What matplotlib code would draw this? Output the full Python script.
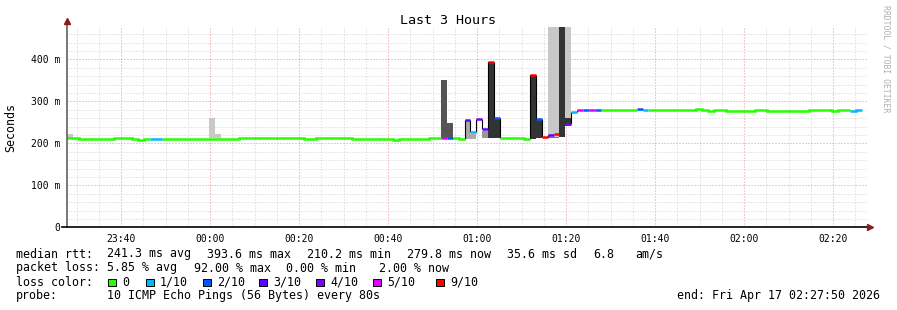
import matplotlib
matplotlib.use("Agg")
import matplotlib.pyplot as plt
from matplotlib.patches import Rectangle
import numpy as np

plt.rcParams['font.family'] = 'DejaVu Sans Mono'

W, H = 897, 310
STEP = 80 / 60.0   # one sample = 80 s, in minutes
SPAN = 180.0       # 3 hours shown, start 23:27:50

# x ticks: minutes from 23:27:50
tick_pos = [12.1667, 32.1667, 52.1667, 72.1667, 92.1667, 112.1667, 132.1667, 152.1667, 172.1667]
tick_labels = ["23:40", "00:00", "00:20", "00:40", "01:00", "01:20", "01:40", "02:00", "02:20"]
minor_pos = [2.1667 + 5 * i for i in range(36)]
ytick_pos = [0, 100, 200, 300, 400]
ytick_labels = ["0", "100 m", "200 m", "300 m", "400 m"]

# median rtt (ms) per 80 s sample
median_ms = [
    213.5, 212, 210.5, 210.5, 210.5, 210.5, 210.5, 210.5,          # 0-7
    213, 213, 213, 210.5, 208.5, 210.5, 210.5, 210.5,              # 8-15
    210.5, 210.5, 210.5, 210.5, 210.5, 210.5, 210.5, 210.5,        # 16-23
    210.5, 210.5, 210.5, 210.5, 210.5,                             # 24-28
    212.5, 212.5, 212.5, 212.5, 212.5, 212.5, 212.5, 212.5, 212.5, 212.5, 212.5,  # 29-39
    210.5, 210.5,                                                  # 40-41
    212, 212, 212, 212, 212, 212,                                  # 42-47
    211, 211, 211, 211, 211, 211, 211,                             # 48-54
    208.5, 211, 211, 211, 211, 211, 213, 213,                      # 55-62
    213.5, 212.5, 213, 210.5, 255.5, 226, 258, 234, 393.6, 260,    # 63-72
    212.5, 212.5, 212.5, 212.5, 211,                               # 73-77
    362.6, 258, 214, 220.5, 221, np.nan, 245, 274.5,               # 78-85
    278.6, 278.6, 278.6, 278.6,                                    # 86-89
    279.5, 279.5, 279.5, 279.5, 279.5, 279.5, 281.7, 279,          # 90-97
    278.6, 278.6, 278.6, 278.6, 278.6, 278.6, 278.6, 278.6,        # 98-105
    281.7, 280, 277.6, 280, 280,                                   # 106-110
    277.6, 277.6, 277.6, 277.6, 277.6, 280.5, 280.5,               # 111-117
    277.6, 277.6, 277.6, 277.6, 277.6, 277.6, 277.6,               # 118-124
    280, 280, 280, 280, 277.6, 280.5, 280.5, 277.6, 279.8,         # 125-133
]

# lost pings out of 10, per sample
loss_n = [
    0, 0, 0, 0, 0, 0, 0, 0,
    0, 0, 0, 0, 0, 0, 1, 1,
    0, 0, 0, 0, 0, 0, 0, 0,
    0, 0, 0, 0, 0,
    0, 0, 0, 0, 0, 0, 0, 0, 0, 0, 0,
    0, 0,
    0, 0, 0, 0, 0, 0,
    0, 0, 0, 0, 0, 0, 0,
    0, 0, 0, 0, 0, 0, 0, 0,
    5, 2, 0, 0, 3, 1, 4, 3, 9, 2,
    0, 0, 0, 0, 0,
    9, 2, 9, 3, 9, 9, 4, 1,
    5, 2, 5, 2,
    0, 0, 0, 0, 0, 0, 2, 1,
    0, 0, 0, 0, 0, 0, 0, 0,
    0, 0, 0, 0, 0,
    0, 0, 0, 0, 0, 0, 0,
    0, 0, 0, 0, 0, 0, 0,
    0, 0, 0, 0, 0, 0, 0, 1, 1,
]

# smoke (ping spread) per sample
smoke_step = [0, 24, 25, 63, 64, 67, 68, 70, 71, 72, 78, 79, 81, 82, 81, 82, 83, 84, 84]
smoke_lo = [213, 212, 212, 213, 213, 210, 210, 212, 212, 212, 210, 212, 212, 212, 212, 212, 215, 260, 241]
smoke_hi = [222, 260, 222, 350.7, 248, 255.5, 222, 230, 393.6, 260, 362.6, 258, 490, 490, 216, 216, 490, 490, 260]
smoke_gray = ['#c8c8c8', '#c8c8c8', '#c8c8c8', '#555555', '#555555', '#aaaaaa', '#aaaaaa', '#999999',
              '#333333', '#333333', '#333333', '#333333', '#c8c8c8', '#c8c8c8', '#777777', '#777777',
              '#333333', '#c8c8c8', '#333333']

loss_colors = {0: '#26ff00', 1: '#00b8ff', 2: '#0059ff', 3: '#5e00ff',
               4: '#7e00ff', 5: '#dd00ff', 9: '#ff0000'}
legend_labels = ["0", "1/10", "2/10", "3/10", "4/10", "5/10", "9/10"]

fig = plt.figure(figsize=(W / 100, H / 100), dpi=100)
ax = fig.add_axes([67 / W, (H - 227.3) / H, 801 / W, 200.3 / H])
ax.set_xlim(0, SPAN)
ax.set_ylim(0, 477)

# grid
ax.set_xticks(tick_pos)
ax.set_xticklabels(tick_labels)
ax.set_xticks(minor_pos, minor=True)
ax.set_yticks(ytick_pos)
ax.set_yticklabels(ytick_labels)
ax.set_yticks(np.arange(20, 477, 20), minor=True)
ax.grid(which='minor', color='#d0d0d0', lw=0.72, linestyle=(0, (1, 2)))
ax.grid(which='major', color='#f09090', lw=0.72, linestyle=(0, (1, 2)))
ax.set_axisbelow(True)
ax.tick_params(axis='both', which='both', length=0, labelsize=7)
ax.tick_params(axis='x', pad=5)
ax.tick_params(axis='y', pad=5)
for s in ax.spines.values():
    s.set_visible(False)

# smoke
ax.bar(np.array(smoke_step) * STEP, np.array(smoke_hi) - np.array(smoke_lo), bottom=smoke_lo,
       width=STEP, align='edge', color=smoke_gray, linewidth=0, zorder=2)

# median line, coloured by loss
n = len(median_ms)
x_edges = np.arange(n + 1) * STEP
med = np.array(median_ms + [np.nan])
loss = np.array(loss_n + [-1])
for lv, col in loss_colors.items():
    y = np.where(loss == lv, med, np.nan)
    ax.plot(x_edges, y, drawstyle='steps-post', color=col, lw=1.8,
            solid_capstyle='butt', solid_joinstyle='miter', zorder=4)
for i in range(1, n):
    a, b = median_ms[i - 1], median_ms[i]
    if loss_n[i] != loss_n[i - 1] and np.isfinite(a) and np.isfinite(b) and abs(a - b) > 3:
        ax.vlines(x_edges[i], min(a, b), max(a, b), color='black', lw=0.8, zorder=3)

# axes with arrows
ax.plot([0, 0], [0, 1.025], transform=ax.transAxes, color='#606060', lw=1.2, clip_on=False, zorder=5)
ax.plot([-0.006, 1.0], [0, 0], transform=ax.transAxes, color='black', lw=1.2, clip_on=False, zorder=5)
ax.plot([0], [1.03], marker='^', ms=4, color='#8b1a1a', transform=ax.transAxes, clip_on=False, zorder=6)
ax.plot([1.003], [0], marker='>', ms=4, color='#8b1a1a', transform=ax.transAxes, clip_on=False, zorder=6)

def ftxt(x, y, s, **kw):
    kw.setdefault('fontsize', 8.35)
    kw.setdefault('va', 'center')
    fig.text(x / W, 1 - y / H, s, **kw)

ftxt(448, 20, "Last 3 Hours", ha='center', fontsize=9.6)
ftxt(11, 127, "Seconds", ha='center', rotation=90)
ftxt(886, 5, "RRDTOOL / TOBI OETIKER", ha='center', va='top', rotation=270, fontsize=5.9, color='#b0b0b0')

ftxt(16, 254, "median rtt:")
for s, x in [("241.3 ms avg", 107), ("393.6 ms max", 207), ("210.2 ms min", 307),
             ("279.8 ms now", 407), ("35.6 ms sd", 507), ("6.8", 593), ("am/s", 635)]:
    ftxt(x, 254, s)
ftxt(16, 268, "packet loss:")
for s, x in [("5.85 % avg", 107), ("92.00 % max", 194), ("0.00 % min", 286), ("2.00 % now", 379)]:
    ftxt(x, 268, s)
ftxt(16, 282, "loss color:")
sq_x = [108, 146, 203, 259, 316, 373, 436]
for lv, lab, x in zip(loss_colors, legend_labels, sq_x):
    fig.patches.append(Rectangle((x / W, 1 - 286 / H), 7.5 / W, 7.5 / H, transform=fig.transFigure,
                                 facecolor=loss_colors[lv], edgecolor='black', lw=0.7))
    ftxt(x + 14, 282, lab)
ftxt(16, 296, "probe:")
ftxt(107, 296, "10 ICMP Echo Pings (56 Bytes) every 80s")
ftxt(880, 296, "end: Fri Apr 17 02:27:50 2026", ha='right')

fig.savefig("out.png", dpi=100)
